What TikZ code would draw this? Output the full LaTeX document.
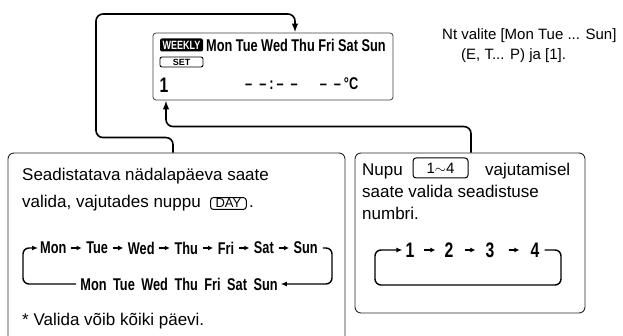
\documentclass[tikz,border=0pt]{standalone}
\usepackage{fontspec}
\setmainfont{Liberation Sans}
\newfontfamily\narrowfont[FakeStretch=0.75]{Liberation Sans}
\usetikzlibrary{arrows.meta,positioning}
\tikzset{
  >={Latex[length=9pt,width=6.5pt]},
  panel/.style  ={draw=black!85,line width=0.9pt,rounded corners=6pt},
  lcdbox/.style ={draw=black!75,line width=0.8pt,rounded corners=3pt,
                  minimum width=240pt,minimum height=67pt},
  link/.style   ={draw=black,line width=1.6pt,rounded corners=7pt},
  loop/.style   ={draw=black,line width=1.4pt,rounded corners=6pt,
                  -{Latex[length=6pt,width=5pt]}},
  stp/.style    ={-{Latex[length=5pt,width=5pt]},line width=1.1pt,
                  shorten <=4.5pt,shorten >=4.5pt},
  txt/.style    ={font=\fontsize{17}{20}\selectfont,inner sep=0pt},
  small/.style  ={font=\fontsize{15}{18}\selectfont,inner sep=0pt},
  seg/.style    ={font=\narrowfont\bfseries\fontsize{17}{20}\selectfont,inner sep=0pt},
  bigseg/.style ={font=\narrowfont\bfseries\fontsize{21}{24}\selectfont,inner sep=0pt},
  keybox/.style ={draw,rounded corners=3pt,line width=1pt,inner xsep=5pt,
                  inner ysep=1.5pt,font=\fontsize{13}{14}\selectfont},
  badge/.style  ={fill=black,text=white,rounded corners=2pt,minimum width=43pt,
                  minimum height=13pt,inner sep=0pt,
                  font=\narrowfont\bfseries\fontsize{12}{13}\selectfont},
  setkey/.style ={draw,line width=0.9pt,rounded corners=2pt,minimum width=43pt,
                  minimum height=10pt,inner sep=0pt,
                  font=\bfseries\fontsize{9}{10}\selectfont},
}
\begin{document}
\begin{tikzpicture}[x=1pt,y=1pt]
\useasboundingbox (0,0) rectangle (623,336);
% display
\node[lcdbox] (lcd) at (273,269.5) {};
\node[badge] (weekly) at (181.5,291) {WEEKLY};
\node[seg,anchor=west] (lcddays) at (206,291) {Mon Tue Wed Thu Fri Sat Sun};
\node[setkey] (set) at (181.5,274) {SET};
\node[bigseg] (prog) at (164,251) {1};
\node[seg,anchor=west] (clock) at (245,252)
  {\textendash\hspace{7pt}\textendash\hspace{3pt}:\hspace{3pt}\textendash\hspace{7pt}\textendash
   \hspace{22pt}\textendash\hspace{7pt}\textendash\hspace{3pt}°C};
\node[small,anchor=base west] (note1) at (442,296) {Nt valite [Mon Tue ... Sun]};
\node[small,anchor=base west] (note2) at (461,276) {(E, T... P) ja [1].};

% panels
\node[panel,minimum width=337pt,minimum height=200pt] (daybox) at (176.5,83) {};
\node[panel,minimum width=230pt,minimum height=160pt] (numbox) at (470,103) {};

% day panel
\node[txt,anchor=base west] (dayl1) at (22,155) {Seadistatava nädalapäeva saate};
\node[txt,anchor=base west] (dayl2) at (22,128) {valida, vajutades nuppu};
\node[keybox,anchor=base west] (daykey) at ([xshift=9pt]dayl2.base east) {DAY};
\node[txt,anchor=base west] (dayl3) at ([xshift=2pt]daykey.base east) {.};
\node[seg,anchor=west] (w1) at (40,88) {Mon};
\node[seg,right=19.5pt of w1] (w2) {Tue};
\node[seg,right=19.5pt of w2] (w3) {Wed};
\node[seg,right=19.5pt of w3] (w4) {Thu};
\node[seg,right=19.5pt of w4] (w5) {Fri};
\node[seg,right=19.5pt of w5] (w6) {Sat};
\node[seg,right=19.5pt of w6] (w7) {Sun};
\foreach \a/\b in {w1/w2,w2/w3,w3/w4,w4/w5,w5/w6,w6/w7}
  \draw[stp] (\a) -- (\b);
\node[seg] (allweek) at (179,52) {\spaceskip=6.5pt\relax Mon Tue Wed Thu Fri Sat Sun};
\draw[loop] ([xshift=5pt]w7.east) -| (332,52) -- ([xshift=3pt]allweek.east);
\draw[loop] ([xshift=-4pt]allweek.west) -| (23,88) -- ([xshift=-2pt]w1.west);
\node[txt,anchor=base west] (daynote) at (22,10) {* Valida võib kõiki päevi.};

% number panel
\node[txt,anchor=base west] (numl1) at (362,160) {Nupu};
\node[keybox,minimum width=55pt,minimum height=20pt,font=\fontsize{15}{16}\selectfont]
  (numkey) at (440.5,168) {1$\sim$4};
\node[txt,anchor=base west] (numl1b) at (485,160) {vajutamisel};
\node[txt,anchor=base west] (numl2) at (362,138) {saate valida seadistuse};
\node[txt,anchor=base west] (numl3) at (362,116) {numbri.};
\node[bigseg] (n1) at (410,86) {1};
\node[bigseg] (n2) at (449,86) {2};
\node[bigseg] (n3) at (490,86) {3};
\node[bigseg] (n4) at (535,86) {4};
\foreach \a/\b/\s/\t in {n1/n2/9/9,n2/n3/11/10,n3/n4/14/11}
  \draw[stp,shorten <=\s pt,shorten >=\t pt] (\a) -- (\b);
\draw[loop] ([xshift=5pt]n4.east) -| (561,51) -| (375,86) -- ([xshift=-3pt]n1.west);

% connectors
\draw[link,->] ([xshift=-3.5pt]daybox.north) -- ++(0,15) -| (96,322)
  -| ([xshift=22pt]lcd.north);
\draw[link,->] ([xshift=1pt]numbox.north) -- ++(0,26) -| ([xshift=-107pt]lcd.south);
\end{tikzpicture}
\end{document}
